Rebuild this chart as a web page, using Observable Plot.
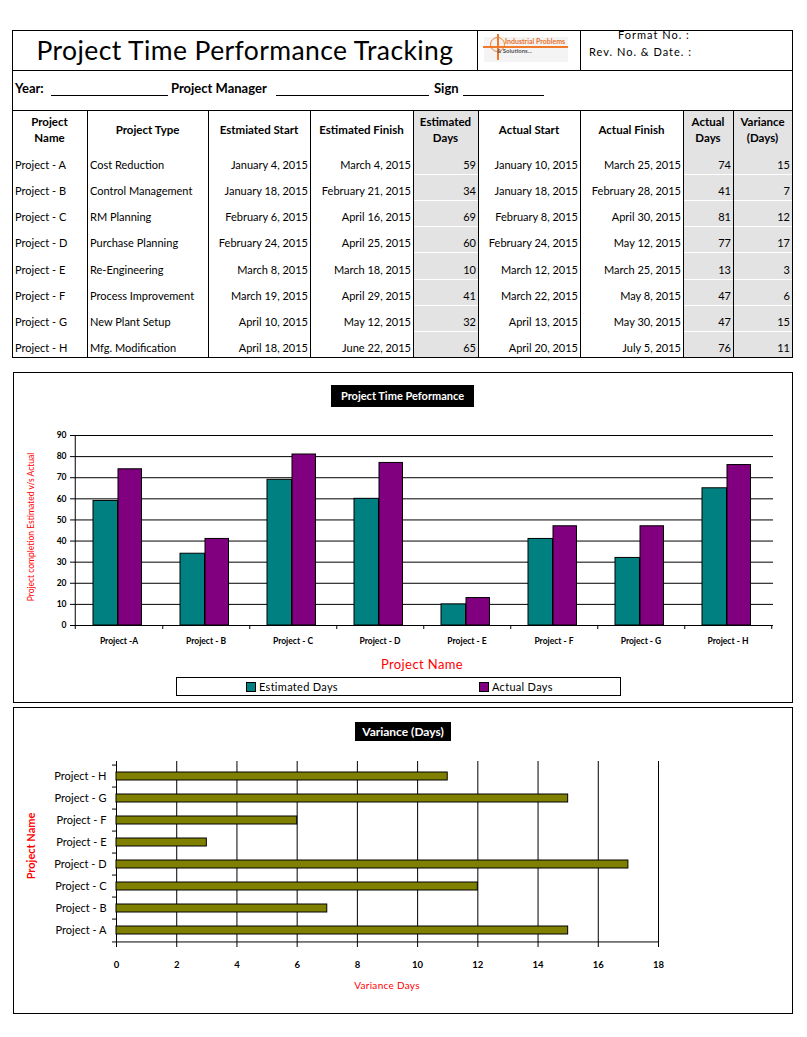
<!DOCTYPE html>
<html>
<head>
<meta charset="utf-8">
<script src="https://cdn.jsdelivr.net/npm/d3@7"></script>
<script src="https://cdn.jsdelivr.net/npm/@observablehq/plot@0.6"></script>
<style>
  html, body { margin: 0; padding: 0; background: #fff; }
  #page { position: relative; width: 807px; height: 1037px; font-family: Lato, "Open Sans", sans-serif; color: #000; overflow: hidden; }
  #page div.a { position: absolute; box-sizing: border-box; white-space: nowrap; }
</style>
</head>
<body>
<div id="page"></div>
<script>
// ---------------- data ----------------
const projects = ["Project - A", "Project - B", "Project - C", "Project - D", "Project - E", "Project - F", "Project - G", "Project - H"];
const chartLabels = ["Project -A", "Project - B", "Project - C", "Project - D", "Project - E", "Project - F", "Project - G", "Project - H"];
const projectTypes = ["Cost Reduction", "Control Management", "RM Planning", "Purchase Planning", "Re-Engineering", "Process Improvement", "New Plant Setup", "Mfg. Modification"];
const estStart = ["January 4, 2015", "January 18, 2015", "February 6, 2015", "February 24, 2015", "March 8, 2015", "March 19, 2015", "April 10, 2015", "April 18, 2015"];
const estFinish = ["March 4, 2015", "February 21, 2015", "April 16, 2015", "April 25, 2015", "March 18, 2015", "April 29, 2015", "May 12, 2015", "June 22, 2015"];
const estDays = [59, 34, 69, 60, 10, 41, 32, 65];
const actStart = ["January 10, 2015", "January 18, 2015", "February 8, 2015", "February 24, 2015", "March 12, 2015", "March 22, 2015", "April 13, 2015", "April 20, 2015"];
const actFinish = ["March 25, 2015", "February 28, 2015", "April 30, 2015", "May 12, 2015", "March 25, 2015", "May 8, 2015", "May 30, 2015", "July 5, 2015"];
const actDays = [74, 41, 81, 77, 13, 47, 47, 76];
const variance = [15, 7, 12, 17, 3, 6, 15, 11];
const headers = ["Project<br>Name", "Project Type", "Estmiated Start", "Estimated Finish", "Estimated<br>Days", "Actual Start", "Actual Finish", "Actual<br>Days", "Variance<br>(Days)"];
const yTicks1 = [0, 10, 20, 30, 40, 50, 60, 70, 80, 90];
const xTicks2 = [0, 2, 4, 6, 8, 10, 12, 14, 16, 18];
const seriesNames = ["Estimated Days", "Actual Days"];

// ---------------- layout ----------------
const page = document.getElementById("page");
function el(style, html) {
  const d = document.createElement("div");
  d.className = "a";
  Object.assign(d.style, style);
  if (html != null) d.innerHTML = html;
  page.appendChild(d);
  return d;
}
function hline(x1, x2, y, color = "#000") { el({left: x1 + "px", top: y + "px", width: (x2 - x1 + 1) + "px", height: "1px", background: color}); }
function vline(x, y1, y2, color = "#000") { el({left: x + "px", top: y1 + "px", width: "1px", height: (y2 - y1 + 1) + "px", background: color}); }

// header outer box
const L = 12, R = 792;
hline(L, R, 30); hline(L, R, 70); hline(L, R, 110); hline(L, R, 357);
vline(L, 30, 357); vline(R, 30, 357);
vline(477, 30, 70); vline(580, 30, 70);

// title
el({left: "14px", top: "32px", width: "462px", height: "36px", fontSize: "26.5px", lineHeight: "36px", textAlign: "center", letterSpacing: "0.4px", fontWeight: "400"}, "Project Time Performance Tracking");

// logo
el({left: "484px", top: "37px", width: "84px", height: "25px", background: "#f4f4f4"});
el({left: "490px", top: "37px", width: "15px", height: "15px", border: "1.5px solid #f07a2a", borderRadius: "50%"});
el({left: "483px", top: "46px", width: "85px", height: "1.5px", background: "#f07a2a"});
el({left: "497px", top: "34px", width: "1.5px", height: "26px", background: "#f07a2a"});
el({left: "505px", top: "37px", fontSize: "7px", fontWeight: "bold", color: "#e8722a", lineHeight: "8px"}, "Industrial Problems");
el({left: "497px", top: "47px", fontSize: "6px", fontWeight: "bold", color: "#555", lineHeight: "7px"}, "&amp; Solutions...");

// format
el({left: "618px", top: "28px", fontSize: "11px", letterSpacing: "1px", lineHeight: "14px"}, "Format No. :");
el({left: "589px", top: "45px", fontSize: "11px", letterSpacing: "1px", lineHeight: "14px"}, "Rev. No. &amp; Date. :");

// year row
const yr = {fontSize: "13px", fontWeight: "bold", lineHeight: "16px", top: "80px"};
el({...yr, left: "15px"}, "Year:");
hline(51, 167, 95);
el({...yr, left: "171px"}, "Project Manager");
hline(276, 428, 95);
el({...yr, left: "434px"}, "Sign");
hline(463, 543, 95);

// table
const cols = [12, 87, 208, 310, 413, 478, 580, 683, 733, 792];
const grayCols = [4, 7, 8];
const rowBottoms = [174, 200, 226, 252, 279, 305, 331, 357];
const headTop = 111, headBottom = 148;
grayCols.forEach(c => {
  el({left: (cols[c] + 1) + "px", top: headTop + "px", width: (cols[c + 1] - cols[c] - 1) + "px", height: (357 - headTop) + "px", background: "#e3e3e3"});
});
rowBottoms.slice(0, -1).forEach(b => grayCols.forEach(c => hline(cols[c] + 1, cols[c + 1] - 1, b, "#fff")));
hline(L, R, 110);
cols.forEach(x => vline(x, 110, 357));
headers.forEach((h, c) => {
  el({left: cols[c] + "px", top: headTop + "px", width: (cols[c + 1] - cols[c]) + "px", height: (headBottom - headTop) + "px",
      display: "flex", alignItems: "center", justifyContent: "center", textAlign: "center",
      fontSize: "11.5px", fontWeight: "bold", lineHeight: "16px"}, h);
});
const tableCols = [projects, projectTypes, estStart, estFinish, estDays, actStart, actFinish, actDays, variance];
const aligns = ["left", "left", "right", "right", "right", "right", "right", "right", "right"];
projects.forEach((p, i) => {
  const bottom = rowBottoms[i];
  tableCols.forEach((arr, c) => {
    el({left: (cols[c] + 3) + "px", top: (bottom - 17) + "px", width: (cols[c + 1] - cols[c] - 5) + "px", height: "18px",
        fontSize: "11px", lineHeight: "16px", textAlign: aligns[c]}, String(arr[i]));
  });
});

// ---------------- chart 1 ----------------
el({left: "13px", top: "372px", width: "780px", height: "331px", border: "1px solid #000"});
el({left: "331px", top: "385px", width: "143px", height: "22px", background: "#000", color: "#fff", fontSize: "11px", fontWeight: "bold", lineHeight: "22px", textAlign: "center"}, "Project Time Peformance");

const bw1 = 700 / 8;
const rows1 = projects.map((p, i) => ({p, est: estDays[i], act: actDays[i]}));
const lab1 = d => chartLabels[projects.indexOf(d)];
const chart1 = Plot.plot({
  width: 807, height: 240,
  marginLeft: 73, marginRight: 34, marginTop: 15, marginBottom: 35,
  style: {background: "transparent", fontFamily: "Lato, sans-serif", color: "#000", overflow: "visible"},
  x: {domain: projects, padding: 0, label: null},
  y: {domain: [0, 90], label: null},
  marks: [
    Plot.ruleY(yTicks1, {stroke: "#000"}),
    Plot.barY(rows1, {x: "p", y: "est", fill: "#008080", stroke: "#000", insetLeft: 18, insetRight: 44.5}),
    Plot.barY(rows1, {x: "p", y: "act", fill: "#800080", stroke: "#000", insetLeft: 43, insetRight: 20.5}),
    Plot.ruleX([projects[0]], {dx: -bw1 / 2, y1: 90, y2: 0, insetBottom: -4, stroke: "#000"}),
    Plot.ruleX(projects, {dx: bw1 / 2, y1: 0, y2: 0, insetBottom: -4, stroke: "#000"}),
    Plot.axisX({tickSize: 0, tickPadding: 12, tickFormat: lab1, fontSize: 8.5, fontWeight: "bold"}),
    Plot.axisY({ticks: yTicks1, tickSize: 3, tickPadding: 4, fontSize: 8.5, fontWeight: "bold"})
  ]
});
Object.assign(chart1.style, {position: "absolute", left: "0px", top: "420px"});
page.appendChild(chart1);

el({left: "31px", top: "527px", width: "0px", height: "0px"}).appendChild(Object.assign(document.createElement("div"), {
  textContent: "Project completion Estimated v/s Actual",
  style: "position:absolute; left:0; top:0; transform: translate(-50%,-50%) rotate(-90deg); transform-origin: center; color:#f00; font-size:8.5px; white-space:nowrap; line-height:10px;"
}));
el({left: "322px", top: "656px", width: "200px", textAlign: "center", fontSize: "13px", color: "#f00", lineHeight: "16px", letterSpacing: "0.4px"}, "Project Name");

// legend
el({left: "176px", top: "677px", width: "445px", height: "19px", border: "1px solid #000"});
el({left: "246px", top: "682px", width: "10px", height: "10px", background: "#008080", border: "1px solid #000"});
el({left: "259px", top: "679px", fontSize: "11px", lineHeight: "15px", letterSpacing: "0.3px"}, seriesNames[0]);
el({left: "479px", top: "682px", width: "10px", height: "10px", background: "#800080", border: "1px solid #000"});
el({left: "492px", top: "679px", fontSize: "11px", lineHeight: "15px", letterSpacing: "0.3px"}, seriesNames[1]);

// ---------------- chart 2 ----------------
el({left: "13px", top: "707px", width: "780px", height: "307px", border: "1px solid #000"});
el({left: "355px", top: "722px", width: "96px", height: "19px", background: "#000", color: "#fff", fontSize: "12px", fontWeight: "bold", lineHeight: "19px", textAlign: "center"}, "Variance (Days)");

const projRev = projects.slice().reverse();
const bw2 = 183 / 8;
const rows2 = projects.map((p, i) => ({p, v: variance[i]}));
const chart2 = Plot.plot({
  width: 807, height: 230,
  marginLeft: 116, marginRight: 149, marginTop: 11, marginBottom: 36,
  style: {background: "transparent", fontFamily: "Lato, sans-serif", color: "#000", overflow: "visible"},
  x: {domain: [0, 18], label: null},
  y: {domain: projRev, padding: 0, label: null},
  marks: [
    Plot.ruleX(xTicks2, {stroke: "#000"}),
    Plot.ruleY([projects[0]], {dy: bw2 / 2, x1: 0, x2: 18, stroke: "#000"}),
    Plot.ruleY(projRev, {dy: -bw2 / 2, x1: 0, x2: 0, insetLeft: -4, stroke: "#000"}),
    Plot.ruleY([projects[0]], {dy: bw2 / 2, x1: 0, x2: 0, insetLeft: -4, stroke: "#000"}),
    Plot.barX(rows2, {y: "p", x: "v", fill: "#808000", stroke: "#000", insetTop: 7, insetBottom: 7}),
    Plot.axisX({ticks: xTicks2, tickSize: 3, tickPadding: 14, fontSize: 9.5, fontWeight: "bold"}),
    Plot.axisY({tickSize: 0, tickPadding: 10, fontSize: 11})
  ]
});
Object.assign(chart2.style, {position: "absolute", left: "0px", top: "750px"});
page.appendChild(chart2);

el({left: "30px", top: "846px", width: "0px", height: "0px"}).appendChild(Object.assign(document.createElement("div"), {
  textContent: "Project Name",
  style: "position:absolute; left:0; top:0; transform: translate(-50%,-50%) rotate(-90deg); color:#f00; font-size:11px; font-weight:bold; white-space:nowrap; line-height:13px;"
}));
el({left: "287px", top: "979px", width: "200px", textAlign: "center", fontSize: "10px", color: "#f00", lineHeight: "13px", letterSpacing: "0.3px"}, "Variance Days");
</script>
</body>
</html>
